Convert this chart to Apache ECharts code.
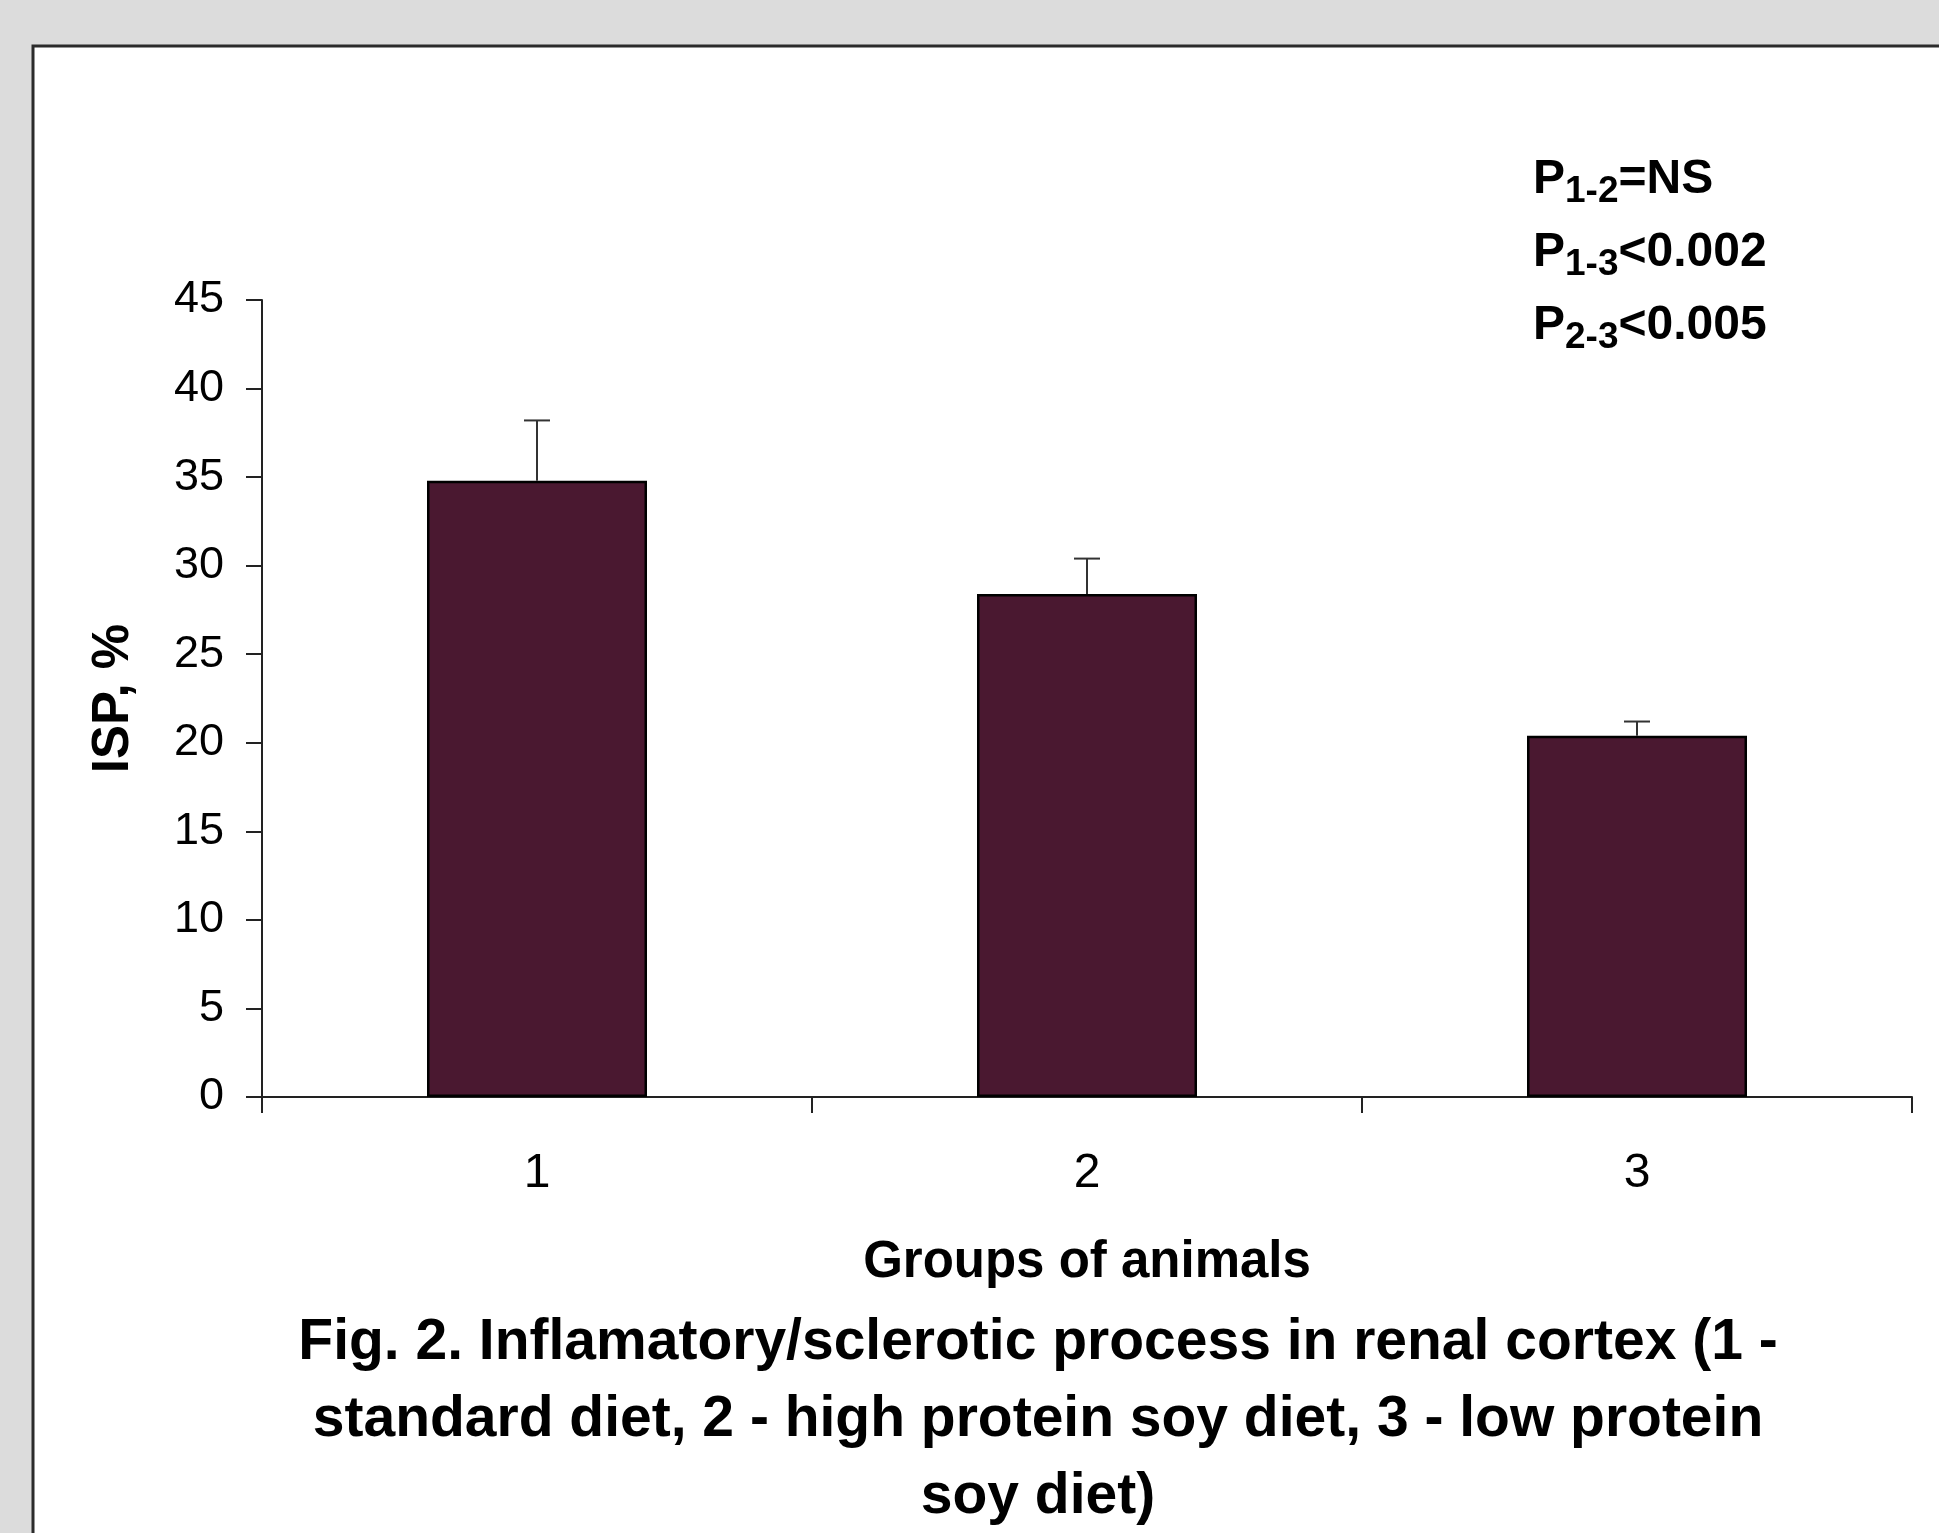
<!DOCTYPE html>
<html>
<head>
<meta charset="utf-8">
<title>ISP by group</title>
<script src="https://cdn.jsdelivr.net/npm/echarts@6/dist/echarts.min.js"></script>
<style>
html, body {
    margin: 0;
    padding: 0;
    background: #dcdcdc;
}
#chart {
    width: 1939px;
    height: 1533px;
}
</style>
</head>
<body>
<div id="chart"></div>
<script>
// data
const groups = ['1', '2', '3'];
const ispMean = [34.8, 28.4, 20.4];
const ispUpper = [38.2, 30.4, 21.2];   // top of the error bar
const yTicks = [0, 45, 5];             // min, max, step

const pSubs = ['1-2', '1-3', '2-3'];
const pTails = ['=NS', '<0.002', '<0.005'];

const captionLines = [
    'Fig. 2. Inflamatory/sclerotic process in renal cortex (1 -',
    'standard diet, 2 - high protein soy diet, 3 - low protein',
    'soy diet)'
];

const FONT = '"Liberation Sans", Arial, sans-serif';
const barColor = '#4a1830';

var myChart = echarts.init(document.getElementById('chart'));

// p-value block, subscript pushed down with top padding
var pTexts = pSubs.map(function (sub, i) {
    return {
        type: 'text',
        left: 1533,
        top: 149 + i * 73,
        z: 10,
        style: {
            text: '{p|P}{s|' + sub + '}{p|' + pTails[i] + '}',
            rich: {
                p: {
                    fontFamily: FONT,
                    fontWeight: 'bold',
                    fontSize: 48,
                    lineHeight: 48,
                    fill: '#000'
                },
                s: {
                    fontFamily: FONT,
                    fontWeight: 'bold',
                    fontSize: 37,
                    lineHeight: 30,
                    padding: [24, 0, 0, 0],
                    fill: '#000'
                }
            }
        }
    };
});

myChart.setOption({
    backgroundColor: '#dcdcdc',
    animation: false,
    grid: {
        left: 262,
        right: 27,
        top: 300,
        bottom: 436
    },
    xAxis: {
        type: 'category',
        data: groups,
        name: 'Groups of animals',
        nameLocation: 'middle',
        nameGap: 140,
        nameTextStyle: {
            fontFamily: FONT,
            fontWeight: 'bold',
            fontSize: 51,
            color: '#000'
        },
        axisLine: {
            lineStyle: { color: '#222', width: 2 }
        },
        axisTick: {
            show: true,
            length: 16,
            lineStyle: { color: '#222', width: 2 }
        },
        axisLabel: {
            margin: 53,
            fontFamily: FONT,
            fontSize: 48,
            color: '#000'
        }
    },
    yAxis: {
        type: 'value',
        min: yTicks[0],
        max: yTicks[1],
        interval: yTicks[2],
        name: 'ISP, %',
        nameLocation: 'middle',
        nameRotate: 90,
        nameGap: 123,
        nameTextStyle: {
            fontFamily: FONT,
            fontWeight: 'bold',
            fontSize: 51,
            color: '#000'
        },
        splitLine: { show: false },
        axisLine: {
            show: true,
            lineStyle: { color: '#222', width: 2 }
        },
        axisTick: {
            show: true,
            length: 16,
            lineStyle: { color: '#222', width: 2 }
        },
        axisLabel: {
            margin: 38,
            fontFamily: FONT,
            fontSize: 45,
            color: '#000'
        }
    },
    graphic: [
        {
            // white panel with its dark frame
            type: 'rect',
            z: -10,
            silent: true,
            shape: { x: 33, y: 46, width: 2000, height: 2000 },
            style: { fill: '#fff', stroke: '#2b2b2b', lineWidth: 3 }
        },
        {
            type: 'text',
            x: 1038,
            y: 1420,
            z: 10,
            style: {
                text: captionLines.join('\n'),
                textAlign: 'center',
                textVerticalAlign: 'middle',
                fontFamily: FONT,
                fontWeight: 'bold',
                fontSize: 57,
                lineHeight: 77,
                fill: '#000'
            }
        }
    ].concat(pTexts),
    series: [
        {
            name: 'ISP',
            type: 'bar',
            data: ispMean,
            barWidth: '40%',
            z: 3,
            itemStyle: {
                color: barColor,
                borderColor: '#000',
                borderWidth: 2.5
            }
        },
        {
            // error bars: only the upper half shows above the bar
            name: 'error',
            type: 'custom',
            z: 4,
            data: ispMean.map(function (v, i) { return [i, v, ispUpper[i]]; }),
            renderItem: function (params, api) {
                var base = api.coord([api.value(0), api.value(1)]);
                var top = api.coord([api.value(0), api.value(2)]);
                var half = 13;
                var st = { stroke: '#333', lineWidth: 2 };
                return {
                    type: 'group',
                    children: [
                        {
                            type: 'line',
                            shape: { x1: base[0], y1: base[1], x2: top[0], y2: top[1] },
                            style: st
                        },
                        {
                            type: 'line',
                            shape: { x1: top[0] - half, y1: top[1], x2: top[0] + half, y2: top[1] },
                            style: st
                        }
                    ]
                };
            }
        }
    ]
});
</script>
</body>
</html>
